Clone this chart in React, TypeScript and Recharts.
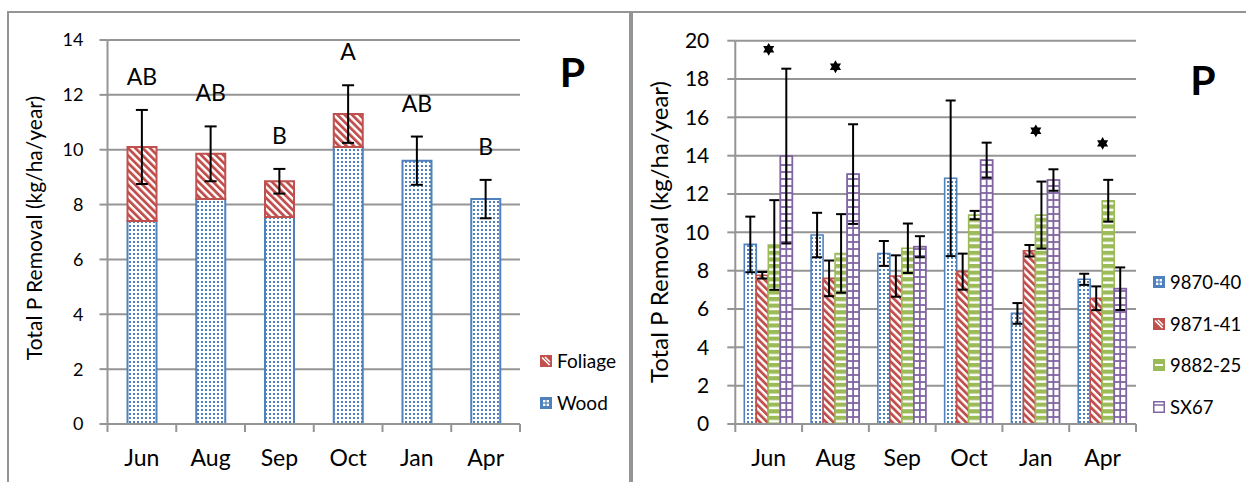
import React from 'react';
import {
  ComposedChart,
  Bar,
  Line,
  Scatter,
  XAxis,
  YAxis,
  CartesianGrid,
  ErrorBar,
  LabelList,
  Legend,
  Label,
} from 'recharts';

// shared categories
const months = ['Jun', 'Aug', 'Sep', 'Oct', 'Jan', 'Apr'];

// left panel: stacked wood + foliage, error bar on the total
const wood = [7.4, 8.2, 7.55, 10.1, 9.6, 8.2];
const foliage = [2.7, 1.65, 1.3, 1.2, 0, 0];
const totalErr = [1.35, 1.0, 0.45, 1.05, 0.88, 0.7];
const letters = ['AB', 'AB', 'B', 'A', 'AB', 'B'];
const leftTicks = [0, 2, 4, 6, 8, 10, 12, 14];

// right panel: four clones
const c9870 = [9.37, 9.86, 8.9, 12.82, 5.77, 7.55];
const c9870Err = [1.45, 1.16, 0.65, 4.06, 0.54, 0.29];
const c9871 = [7.76, 7.6, 7.72, 7.95, 9.04, 6.56];
const c9871Err = [0.17, 0.93, 1.08, 0.94, 0.3, 0.62];
const c9882 = [9.34, 8.9, 9.17, 10.9, 10.9, 11.65];
const c9882Err = [2.34, 2.05, 1.29, 0.22, 1.75, 1.09];
const cSX67 = [13.98, 13.04, 9.25, 13.77, 12.73, 7.06];
const cSX67Err = [4.56, 2.6, 0.55, 0.91, 0.56, 1.11];
const stars = [19.55, 18.64, null, null, 15.3, 14.64];
const rightTicks = [0, 2, 4, 6, 8, 10, 12, 14, 16, 18, 20];

const leftData = months.map((m, i) => ({
  month: m,
  wood: wood[i],
  foliage: foliage[i],
  total: wood[i] + foliage[i],
  err: totalErr[i],
  top: wood[i] + foliage[i] + totalErr[i],
  letter: letters[i],
}));

const rightData = months.map((m, i) => ({
  month: m,
  a: c9870[i],
  aErr: c9870Err[i],
  b: c9871[i],
  bErr: c9871Err[i],
  c: c9882[i],
  cErr: c9882Err[i],
  d: cSX67[i],
  dErr: cSX67Err[i],
  star: stars[i],
}));

const FONT = 'Lato, "Liberation Sans", sans-serif';
const GRID = '#959595';
const BLUE = '#4f81bd';
const RED = '#c0504d';
const GREEN = '#9bbb59';
const PURPLE = '#8064a2';

// x ticks: Excel puts tick marks between categories, not under them
const bandTick = (band: number, count: number) => (props: any) => {
  const { x, y, payload, index } = props;
  return (
    <g>
      <line x1={x - band / 2} x2={x - band / 2} y1={y} y2={y + 8} stroke={GRID} strokeWidth={2} />
      {index === count - 1 && (
        <line x1={x + band / 2} x2={x + band / 2} y1={y} y2={y + 8} stroke={GRID} strokeWidth={2} />
      )}
      <text x={x} y={y + 42} textAnchor="middle" fontSize={23} fontFamily={FONT} fill="#000">
        {payload.value}
      </text>
    </g>
  );
};

const GridBar = (props: any) => {
  const { x, y, width, height } = props;
  if (!height || height <= 0) return null;
  const rows = [];
  for (let yy = y + height - 7; yy > y + 2; yy -= 7) {
    rows.push(<line key={yy} x1={x} x2={x + width} y1={yy} y2={yy} stroke={PURPLE} strokeWidth={1.8} />);
  }
  return (
    <g>
      <rect x={x} y={y} width={width} height={height} fill="#fff" stroke={PURPLE} strokeWidth={1.8} />
      {rows}
      <line x1={x + width / 2} x2={x + width / 2} y1={y} y2={y + height} stroke={PURPLE} strokeWidth={1.8} />
    </g>
  );
};

const StarShape = (props: any) => {
  const { cx, cy, payload } = props;
  if (payload == null || payload.star == null || cx == null || cy == null || isNaN(cy)) return null;
  const R = 6.4;
  const r = R / Math.sqrt(3);
  const pts = [];
  for (let k = 0; k < 12; k++) {
    const ang = -Math.PI / 2 + (k * Math.PI) / 6;
    const rad = k % 2 === 0 ? R : r;
    pts.push(`${cx + rad * Math.cos(ang)},${cy + rad * Math.sin(ang)}`);
  }
  return <polygon points={pts.join(' ')} fill="#000" />;
};

const Icon = ({ kind }: { kind: string }) => (
  <svg width={12} height={12} style={{ display: 'block', flex: 'none' }}>
    {kind === 'blue' && (
      <g>
        <rect x={0.75} y={0.75} width={10.5} height={10.5} fill={BLUE} stroke={BLUE} strokeWidth={1.5} />
        <rect x={3} y={3} width={2.4} height={2.4} fill="#fff" />
        <rect x={6.6} y={3} width={2.4} height={2.4} fill="#fff" />
        <rect x={3} y={6.6} width={2.4} height={2.4} fill="#fff" />
        <rect x={6.6} y={6.6} width={2.4} height={2.4} fill="#fff" />
      </g>
    )}
    {kind === 'red' && (
      <g>
        <rect x={0.75} y={0.75} width={10.5} height={10.5} fill={RED} stroke={RED} strokeWidth={1.5} />
        <line x1={2} y1={2.5} x2={9.5} y2={10} stroke="#fff" strokeWidth={1.6} />
        <line x1={5} y1={2} x2={10} y2={7} stroke="#fff" strokeWidth={1.4} />
      </g>
    )}
    {kind === 'green' && (
      <g>
        <rect x={0.75} y={0.75} width={10.5} height={10.5} fill={GREEN} stroke={GREEN} strokeWidth={1.5} />
        <rect x={2} y={5} width={8} height={2} fill="#fff" />
      </g>
    )}
    {kind === 'purple' && (
      <g>
        <rect x={0.75} y={0.75} width={10.5} height={10.5} fill="#fff" stroke={PURPLE} strokeWidth={1.5} />
        <line x1={1} y1={4} x2={11} y2={4} stroke={PURPLE} strokeWidth={1.5} />
      </g>
    )}
  </svg>
);

const legendBox = (items: { kind: string; name: string }[], step: number, fontSize: number) => () => (
  <div style={{ position: 'relative', fontFamily: FONT, fontSize, color: '#000' }}>
    {items.map((it, i) => (
      <div
        key={it.name}
        style={{ position: 'absolute', top: i * step, left: 0, height: 12, display: 'flex', alignItems: 'center', whiteSpace: 'nowrap' }}
      >
        <Icon kind={it.kind} />
        <span style={{ marginLeft: 5, lineHeight: '12px' }}>{it.name}</span>
      </div>
    ))}
  </div>
);

const yLabel = (cx: number, cy: number, fontSize: number) => () => (
  <text
    transform={`translate(${cx},${cy}) rotate(-90)`}
    textAnchor="middle"
    dy="0.36em"
    fontSize={fontSize}
    fontFamily={FONT}
    fill="#000"
  >
    Total P Removal (kg/ha/year)
  </text>
);

const LeftChart = () => (
  <ComposedChart
    width={630}
    height={482}
    data={leftData}
    margin={{ top: 40, right: 110, bottom: 28, left: 47.5 }}
    barSize={29}
  >
    <CartesianGrid vertical={false} stroke={GRID} strokeWidth={2} />
    <XAxis
      dataKey="month"
      height={30}
      interval={0}
      tickLine={false}
      tickSize={0}
      tickMargin={0}
      axisLine={{ stroke: GRID, strokeWidth: 2 }}
      tick={bandTick(412.5 / 6, months.length)}
    />
    <YAxis
      width={60}
      domain={[0, 14]}
      ticks={leftTicks}
      tickSize={8}
      tickMargin={16}
      axisLine={{ stroke: GRID, strokeWidth: 2 }}
      tickLine={{ stroke: GRID, strokeWidth: 2 }}
      tick={{ fontSize: 18, fontFamily: FONT, fill: '#000' }}
    >
      <Label content={yLabel(34, 228, 21)} />
    </YAxis>
    <Bar dataKey="wood" name="Wood" stackId="s" fill="url(#pWood)" stroke={BLUE} strokeWidth={2} isAnimationActive={false} />
    <Bar dataKey="foliage" name="Foliage" stackId="s" fill="url(#pFol)" stroke={RED} strokeWidth={2} isAnimationActive={false} />
    {/* invisible series carrying the error bar on the stack total */}
    <Line dataKey="total" stroke="none" dot={false} activeDot={false} legendType="none" isAnimationActive={false}>
      <ErrorBar dataKey="err" width={6} stroke="#000" strokeWidth={2} direction="y" />
    </Line>
    {/* invisible series carrying the significance letters */}
    <Line dataKey="top" stroke="none" dot={false} activeDot={false} legendType="none" isAnimationActive={false}>
      <LabelList
        dataKey="letter"
        content={(p: any) => {
          const x = p.x ?? p.viewBox?.x;
          const y = p.y ?? p.viewBox?.y;
          return (
            <text x={x} y={y - 25} textAnchor="middle" fontSize={23} fontFamily={FONT} fill="#000">
              {p.value}
            </text>
          );
        }}
      />
    </Line>
    <Legend
      layout="vertical"
      align="center"
      verticalAlign="middle"
      wrapperStyle={{ left: 540, top: 355, width: 90, height: 60 }}
      content={legendBox(
        [
          { kind: 'red', name: 'Foliage' },
          { kind: 'blue', name: 'Wood' },
        ],
        42,
        19,
      )}
    />
  </ComposedChart>
);

const RightChart = () => (
  <ComposedChart
    width={616}
    height={482}
    data={rightData}
    margin={{ top: 40.7, right: 110, bottom: 28, left: 45.3 }}
    barSize={12}
    barGap={0}
  >
    <CartesianGrid vertical={false} stroke={GRID} strokeWidth={2} />
    <XAxis
      dataKey="month"
      height={30}
      interval={0}
      tickLine={false}
      tickSize={0}
      tickMargin={0}
      axisLine={{ stroke: GRID, strokeWidth: 2 }}
      tick={bandTick(400.7 / 6, months.length)}
    />
    <YAxis
      width={60}
      domain={[0, 20]}
      ticks={rightTicks}
      tickSize={8}
      tickMargin={18}
      axisLine={{ stroke: GRID, strokeWidth: 2 }}
      tickLine={{ stroke: GRID, strokeWidth: 2 }}
      tick={{ fontSize: 21, fontFamily: FONT, fill: '#000' }}
    >
      <Label content={yLabel(29.5, 232, 24)} />
    </YAxis>
    <Bar dataKey="a" name="9870-40" fill="url(#pWood)" stroke={BLUE} strokeWidth={1.6} isAnimationActive={false}>
      <ErrorBar dataKey="aErr" width={5} stroke="#000" strokeWidth={2} direction="y" />
    </Bar>
    <Bar dataKey="b" name="9871-41" fill="url(#pFol)" stroke={RED} strokeWidth={1.6} isAnimationActive={false}>
      <ErrorBar dataKey="bErr" width={5} stroke="#000" strokeWidth={2} direction="y" />
    </Bar>
    <Bar dataKey="c" name="9882-25" fill="url(#pStripe)" stroke={GREEN} strokeWidth={1.6} isAnimationActive={false}>
      <ErrorBar dataKey="cErr" width={5} stroke="#000" strokeWidth={2} direction="y" />
    </Bar>
    <Bar dataKey="d" name="SX67" shape={GridBar} isAnimationActive={false}>
      <ErrorBar dataKey="dErr" width={5} stroke="#000" strokeWidth={2} direction="y" />
    </Bar>
    <Scatter dataKey="star" shape={StarShape} legendType="none" isAnimationActive={false} />
    <Legend
      layout="vertical"
      align="center"
      verticalAlign="middle"
      wrapperStyle={{ left: 523, top: 276, width: 95, height: 140 }}
      content={legendBox(
        [
          { kind: 'blue', name: '9870-40' },
          { kind: 'red', name: '9871-41' },
          { kind: 'green', name: '9882-25' },
          { kind: 'purple', name: 'SX67' },
        ],
        41.7,
        18.5,
      )}
    />
  </ComposedChart>
);

export default function App() {
  return (
    <div style={{ position: 'absolute', left: 0, top: 0, width: 1246, height: 482, overflow: 'hidden', background: '#fff' }}>
      <svg width={0} height={0} style={{ position: 'absolute' }}>
        <defs>
          <pattern id="pWood" width="4" height="4" patternUnits="userSpaceOnUse">
            <rect width="4" height="4" fill="#fff" />
            <rect x="1" y="1" width="2" height="2" fill={BLUE} />
          </pattern>
          <pattern id="pFol" width="5.2" height="5.2" patternUnits="userSpaceOnUse" patternTransform="rotate(-45)">
            <rect width="5.2" height="5.2" fill="#fff" />
            <rect width="2.8" height="5.2" fill={RED} />
          </pattern>
          <pattern id="pStripe" width="6" height="6.6" patternUnits="userSpaceOnUse">
            <rect width="6" height="6.6" fill="#fff" />
            <rect width="6" height="4.2" fill={GREEN} />
          </pattern>
        </defs>
      </svg>
      {/* panel frames */}
      <div style={{ position: 'absolute', left: 7, top: 11, width: 620, height: 500, border: `2px solid ${GRID}` }} />
      <div style={{ position: 'absolute', left: 631, top: 11, width: 700, height: 500, border: `2px solid ${GRID}` }} />
      <div style={{ position: 'absolute', left: 0, top: 0 }}>
        <LeftChart />
      </div>
      <div style={{ position: 'absolute', left: 630, top: 0 }}>
        <RightChart />
      </div>
      <svg width={1246} height={482} style={{ position: 'absolute', left: 0, top: 0, pointerEvents: 'none' }}>
        <text x={572.5} y={86.5} textAnchor="middle" fontSize={41} fontWeight="bold" fontFamily={FONT} fill="#000">
          P
        </text>
        <text x={1203} y={94.5} textAnchor="middle" fontSize={41} fontWeight="bold" fontFamily={FONT} fill="#000">
          P
        </text>
      </svg>
    </div>
  );
}
